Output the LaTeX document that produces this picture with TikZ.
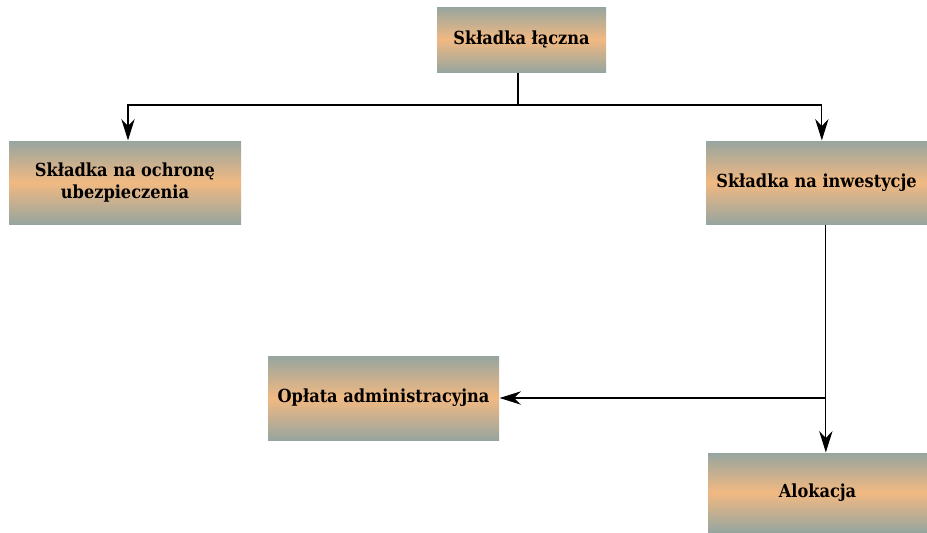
\documentclass[tikz,border=0pt]{standalone}
\usepackage{fontspec}
\setmainfont{DejaVu Serif Condensed}
\usetikzlibrary{arrows.meta}

\definecolor{boxgrey}{HTML}{97A59F}
\definecolor{boxpeach}{HTML}{F1B982}

\tikzset{
  block/.style={inner sep=2pt, align=center, font=\bfseries\fontsize{13.5}{17}\selectfont,
    top color=boxgrey, bottom color=boxgrey, middle color=boxpeach, shading angle=0},
}

\begin{document}
\begin{tikzpicture}[x=0.75pt,y=-0.75pt,line width=0.9pt,>={Stealth[length=16,width=10]}]
\useasboundingbox (0,0) rectangle (927,532);

\node[block,minimum width=169*0.75pt,minimum height=65*0.75pt] (total) at (521.5,39.5) {Składka łączna};
\node[block,minimum width=232*0.75pt,minimum height=83*0.75pt] (cover) at (125,182.5) {Składka na ochronę\\ubezpieczenia};
\node[block,minimum width=221*0.75pt,minimum height=83*0.75pt] (invest) at (816.5,182.5) {Składka na inwestycje};
\node[block,minimum width=231*0.75pt,minimum height=84*0.75pt] (fee) at (383.5,398) {Opłata administracyjna};
\node[block,minimum width=219*0.75pt,minimum height=79*0.75pt] (alloc) at (817.5,492.5) {Alokacja};

\coordinate (split) at (518,105);
\coordinate (drop) at ([xshift=7pt]invest.south);

\draw (split |- total.south) -- (split);
\draw[->] (split) -| ([xshift=2.25pt]cover.north);
\draw[->] (split) -| ([xshift=4pt]invest.north);

\draw[->] (drop) -- (drop |- alloc.north);
\draw[->] (drop |- fee.east) -- (fee.east);

\end{tikzpicture}
\end{document}
